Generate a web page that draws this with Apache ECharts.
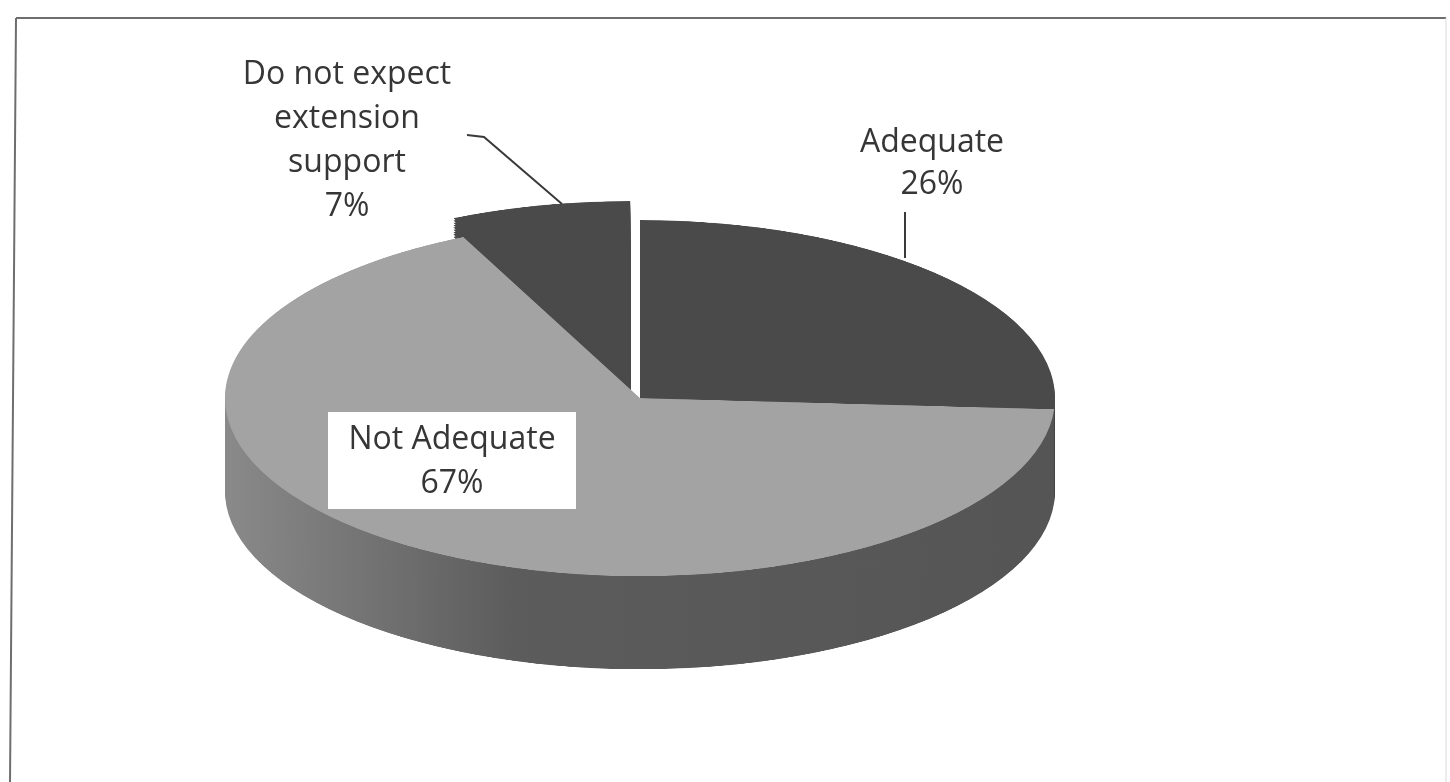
<!DOCTYPE html>
<html>
<head>
<meta charset="utf-8">
<script src="https://cdn.jsdelivr.net/npm/echarts@6/dist/echarts.min.js"></script>
<style>
    html, body { margin: 0; padding: 0; background: #ffffff; overflow: hidden; }
    #wrap { position: relative; width: 1450px; height: 782px; overflow: hidden; }
    /* the pie is drawn round, then flattened to look tilted */
    #pie-chart { position: absolute; left: 0; top: 0; width: 1450px; height: 1823px;
                 transform: scaleY(0.429); transform-origin: 0 0; }
    #label-chart { position: absolute; left: 0; top: 0; width: 1450px; height: 782px; }
</style>
</head>
<body>
<div id="wrap">
    <div id="pie-chart"></div>
    <div id="label-chart"></div>
</div>
<script>
// Données du graphique
const categories = ['Adequate', 'Not Adequate', 'Do not expect\nextension\nsupport'];
const values = [26, 67, 7];
const exploded = [false, false, true];

// Couleurs
const topColors = ['#4a4a4a', '#a3a3a3', '#4a4a4a'];
const sideColors = [
    '#444444',
    { type: 'linear', x: 0, y: 0, x2: 1, y2: 0,
      colorStops: [{ offset: 0, color: '#8a8a8a' }, { offset: 0.35, color: '#5c5c5c' }, { offset: 1, color: '#555555' }] },
    '#4a4a4a'
];

window.onload = function () {
    const cx = 640, cy = 928, radius = 415;
    const depth = 217, layers = 40;

    function pieLayer(dy, colors) {
        return {
            type: 'pie',
            silent: true,
            animation: false,
            clockwise: true,
            startAngle: 90,
            center: [cx, cy + dy],
            radius: radius,
            selectedMode: 'multiple',
            selectedOffset: 45,
            label: { show: false },
            labelLine: { show: false },
            emphasis: { disabled: true },
            data: categories.map((name, i) => ({
                name: name,
                value: values[i],
                selected: exploded[i],
                itemStyle: { color: colors[i], borderWidth: 0 },
                select: { itemStyle: { color: colors[i], borderWidth: 0 } }
            }))
        };
    }

    // côtés (du plus bas vers le haut) puis le dessus
    const series = [];
    for (let k = layers; k >= 1; k--) {
        series.push(pieLayer(depth * k / layers, sideColors));
    }
    series.push(pieLayer(0, topColors));

    const pieChart = echarts.init(document.getElementById('pie-chart'));
    pieChart.setOption({ animation: false, series: series });

    // étiquettes
    const labelText = categories.map((c, i) => c + '\n' + values[i] + '%');
    const font = '32px "Open Sans", sans-serif';
    const ink = '#363636';
    const labelChart = echarts.init(document.getElementById('label-chart'));
    labelChart.setOption({
        animation: false,
        graphic: [
            // cadre
            { type: 'line', shape: { x1: 16, y1: 18, x2: 1446, y2: 18 }, style: { stroke: '#6e6e6e', lineWidth: 2 } },
            { type: 'line', shape: { x1: 16, y1: 18, x2: 10, y2: 782 }, style: { stroke: '#6e6e6e', lineWidth: 2 } },
            { type: 'line', shape: { x1: 1446, y1: 18, x2: 1446, y2: 782 }, style: { stroke: '#d8d8d8', lineWidth: 1 } },
            // traits de rappel
            { type: 'polyline', shape: { points: [[467, 135], [484, 137], [562, 204]] }, style: { stroke: '#3a3a3a', lineWidth: 2, fill: null } },
            { type: 'line', shape: { x1: 905, y1: 212, x2: 905, y2: 258 }, style: { stroke: '#3a3a3a', lineWidth: 2 } },
            {
                type: 'text', x: 932, y: 164,
                style: { text: labelText[0], font: font, fill: ink, align: 'center', verticalAlign: 'middle', lineHeight: 42 }
            },
            {
                type: 'rect', shape: { x: 328, y: 412, width: 248, height: 97 },
                style: { fill: '#ffffff' }
            },
            {
                type: 'text', x: 452, y: 462,
                style: { text: labelText[1], font: font, fill: ink, align: 'center', verticalAlign: 'middle', lineHeight: 44 }
            },
            {
                type: 'text', x: 347, y: 141,
                style: { text: labelText[2], font: font, fill: ink, align: 'center', verticalAlign: 'middle', lineHeight: 44 }
            }
        ]
    });
};
</script>
</body>
</html>
